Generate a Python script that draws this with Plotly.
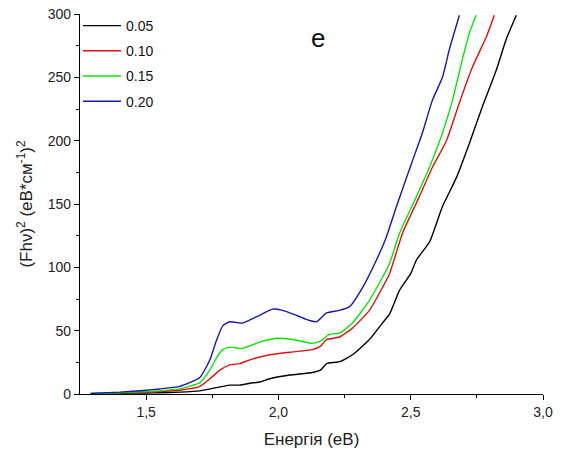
import plotly.graph_objects as go

labels = ["0.05", "0.10", "0.15", "0.20"]
colors = ["#000000", "#e01010", "#10e010", "#1818a8"]

x_005 = [1.29, 1.40, 1.50, 1.55, 1.627, 1.703, 1.741, 1.79, 1.816, 1.854, 1.892, 1.929,
         1.967, 2.042, 2.129, 2.16, 2.182, 2.231, 2.28, 2.344, 2.393, 2.42, 2.458, 2.50,
         2.522, 2.571, 2.62, 2.673, 2.722, 2.771, 2.824, 2.861, 2.899]
y_005 = [0.3, 0.6, 0.8, 1.0, 1.5, 2.5, 4.0, 6.0, 7.0, 7.0, 8.5, 9.5,
         12.0, 15.0, 17.0, 19.0, 24.0, 25.5, 31.0, 43.0, 56.0, 63.0, 82.0, 95.0,
         106.0, 120.0, 148.0, 171.0, 198.0, 227.0, 256.0, 280.0, 299.0]

x_010 = [1.29, 1.40, 1.50, 1.55, 1.627, 1.703, 1.741, 1.78, 1.816, 1.854, 1.892, 1.967,
         2.042, 2.129, 2.16, 2.182, 2.231, 2.28, 2.344, 2.393, 2.42, 2.469, 2.533,
         2.582, 2.635, 2.684, 2.733, 2.786, 2.816]
y_010 = [0.3, 0.9, 1.6, 2.0, 3.0, 6.0, 12.0, 19.0, 23.0, 24.0, 27.0, 31.0,
         33.0, 35.0, 38.0, 43.0, 45.0, 52.0, 66.0, 84.0, 95.0, 127.0, 156.0,
         179.0, 200.0, 230.0, 258.0, 282.0, 299.0]

x_015 = [1.29, 1.40, 1.50, 1.55, 1.627, 1.703, 1.741, 1.767, 1.79, 1.816, 1.854, 1.865,
         1.929, 1.993, 2.054, 2.129, 2.16, 2.193, 2.231, 2.28, 2.344, 2.393, 2.42,
         2.458, 2.522, 2.571, 2.62, 2.658, 2.695, 2.722, 2.747]
y_015 = [0.4, 1.0, 2.0, 2.5, 4.0, 9.0, 19.0, 29.0, 35.0, 37.0, 36.0, 36.0,
         41.0, 44.0, 43.0, 40.0, 42.0, 47.0, 48.0, 56.0, 74.0, 92.0, 103.0,
         127.0, 156.0, 179.0, 206.0, 232.0, 264.0, 285.0, 299.0]

x_020 = [1.29, 1.40, 1.50, 1.55, 1.627, 1.703, 1.741, 1.767, 1.79, 1.816, 1.854, 1.865,
         1.918, 1.978, 2.016, 2.069, 2.118, 2.144, 2.182, 2.231, 2.269, 2.318, 2.371,
         2.408, 2.446, 2.503, 2.544, 2.582, 2.62, 2.646, 2.684]
y_020 = [0.5, 1.5, 3.0, 4.0, 6.0, 13.0, 27.0, 43.0, 54.0, 57.0, 56.0, 56.0,
         61.0, 67.0, 66.0, 62.0, 58.0, 57.0, 64.0, 66.0, 69.0, 84.0, 106.0,
         124.0, 148.0, 182.0, 206.0, 232.0, 250.0, 272.0, 299.0]

xs = [x_005, x_010, x_015, x_020]
ys = [y_005, y_010, y_015, y_020]

fig = go.Figure()
for i in range(4):
    fig.add_trace(go.Scatter(
        x=xs[i], y=ys[i], mode="lines", name=labels[i],
        legendgroup=labels[i],
        line=dict(color=colors[i], width=1.4, shape="spline", smoothing=0.5),
    ))

font_family = "Liberation Sans, Arial, sans-serif"

fig.update_layout(
    width=581, height=459,
    margin=dict(l=80, r=38, t=14, b=65, autoexpand=False),
    paper_bgcolor="white", plot_bgcolor="white",
    separators=",.",
    font=dict(family=font_family, size=14, color="#222222"),
    showlegend=True,
    legend=dict(
        x=-2 / 463, y=1 + 4 / 380, xanchor="left", yanchor="top",
        bgcolor="rgba(0,0,0,0)",
        font=dict(size=14, color="#111111"),
        tracegroupgap=4,
        itemwidth=38,
    ),
    xaxis=dict(
        range=[1.25, 3.0], showgrid=False, zeroline=False, automargin=False,
        showline=True, linecolor="black", linewidth=1.3,
        ticks="outside", ticklen=5, tickcolor="black",
        tickvals=[1.5, 2.0, 2.5, 3.0], tickformat=".1f",
        minor=dict(ticks="outside", ticklen=3, tickvals=[1.75, 2.25, 2.75], tickcolor="black"),
        title=dict(text="Енергія (еВ)", font=dict(size=17), standoff=14),
    ),
    yaxis=dict(
        range=[0, 300], showgrid=False, zeroline=False, automargin=False,
        showline=True, linecolor="black", linewidth=1.3,
        ticks="outside", ticklen=5, tickcolor="black",
        tickvals=[0, 50, 100, 150, 200, 250, 300],
        minor=dict(ticks="outside", ticklen=3, tickvals=[25, 75, 125, 175, 225, 275], tickcolor="black"),
        title=dict(text="(Fhν)<sup>2</sup> (еВ*см<sup>-1</sup>)<sup>2</sup>", font=dict(size=17), standoff=10),
    ),
    annotations=[dict(
        text="e", xref="paper", yref="paper", x=(318 - 80) / 463, y=(394 - 38) / 380,
        xanchor="center", yanchor="middle", showarrow=False,
        font=dict(size=26, color="#111111"),
    )],
)

fig.write_html("out.html")
